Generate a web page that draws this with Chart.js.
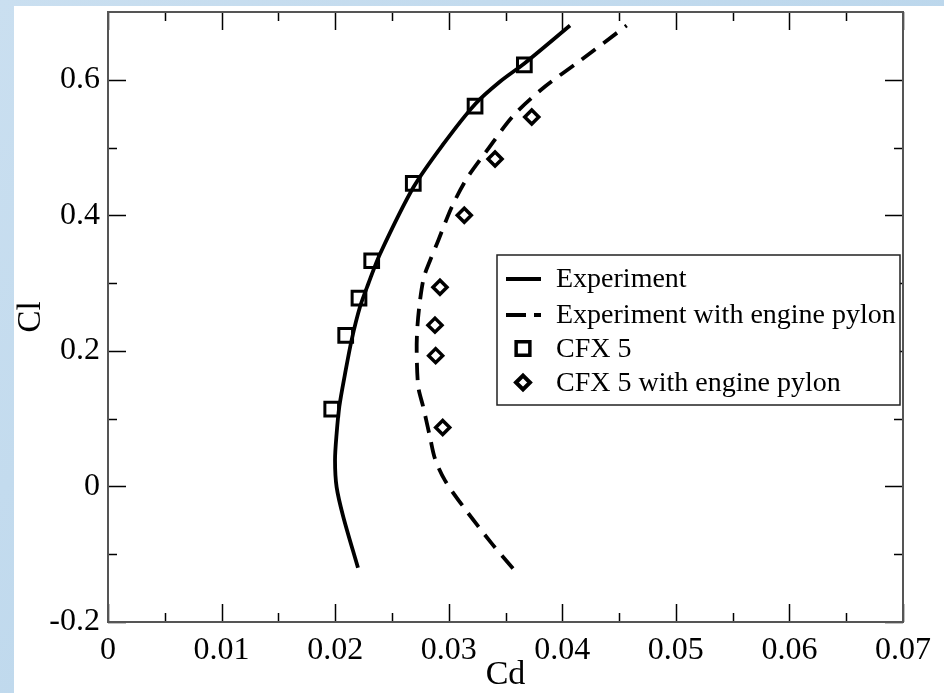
<!DOCTYPE html>
<html>
<head>
<meta charset="utf-8">
<script src="https://cdn.jsdelivr.net/npm/chart.js@4/dist/chart.umd.min.js"></script>
<style>
  html, body { margin:0; padding:0; }
  body { width:944px; height:693px; overflow:hidden; background:linear-gradient(135deg, #cadff0 0%, #bcd7ec 60%, #b4d1ea 100%); position:relative; }
  #panel { position:absolute; left:14px; top:6px; width:930px; height:687px; background:#fff; }
  #panel canvas { display:block; }
</style>
</head>
<body>
<div id="panel"><canvas id="polar" width="930" height="687"></canvas></div>
<script>
"use strict";
// Experiment (solid)
const expCd = [0.02201, 0.02072, 0.02013, 0.01999, 0.02013, 0.02037, 0.02087, 0.02145, 0.02219, 0.02292, 0.02395, 0.02688, 0.02952, 0.03232, 0.03450, 0.03666, 0.04068];
const expCl = [-0.120, -0.045, -0.001, 0.039, 0.078, 0.118, 0.166, 0.216, 0.265, 0.299, 0.343, 0.441, 0.505, 0.564, 0.597, 0.624, 0.680];
// Experiment with engine pylon (dashed)
const pylCd = [0.03566, 0.03378, 0.03129, 0.02967, 0.02879, 0.02835, 0.02776, 0.02732, 0.02718, 0.02724, 0.02747, 0.02782, 0.02835, 0.02908, 0.03026, 0.03158, 0.03334, 0.03569, 0.03848, 0.04156, 0.04567];
const pylCl = [-0.121, -0.084, -0.030, 0.009, 0.041, 0.073, 0.117, 0.147, 0.201, 0.235, 0.274, 0.309, 0.333, 0.363, 0.412, 0.454, 0.495, 0.547, 0.590, 0.628, 0.680];
// CFX 5 (squares)
const cfxCd = [0.01970, 0.02093, 0.02210, 0.02322, 0.02688, 0.03232, 0.03666];
const cfxCl = [0.114, 0.223, 0.278, 0.333, 0.447, 0.561, 0.622];
// CFX 5 with engine pylon (diamonds)
const cfxPylCd = [0.02947, 0.02885, 0.02879, 0.02923, 0.03137, 0.03408, 0.03731];
const cfxPylCl = [0.087, 0.193, 0.238, 0.294, 0.400, 0.483, 0.545];

const xMajor = [0, 0.01, 0.02, 0.03, 0.04, 0.05, 0.06, 0.07];
const xLabels = ["0", "0.01", "0.02", "0.03", "0.04", "0.05", "0.06", "0.07"];
const xMinor = [0.005, 0.015, 0.025, 0.035, 0.045, 0.055, 0.065];
const yMajor = [-0.2, 0, 0.2, 0.4, 0.6];
const yLabels = ["-0.2", "0", "0.2", "0.4", "0.6"];
const yMinor = [-0.1, 0.1, 0.3, 0.5];

const seriesNames = ["Experiment", "Experiment with engine pylon", "CFX 5", "CFX 5 with engine pylon"];

const SERIF = "'Liberation Serif', 'Times New Roman', serif";
Chart.defaults.font.family = SERIF;
Chart.defaults.color = "#000";

const pts = (xs, ys) => xs.map((v, i) => ({ x: v, y: ys[i] }));

const frameTicks = {
  id: "frameTicks",
  afterDraw(chart) {
    const { ctx, chartArea: a, scales: { x, y } } = chart;
    ctx.save();
    ctx.strokeStyle = "#000";
    ctx.lineWidth = 1.5;
    ctx.beginPath();
    const vt = (vals, len) => vals.forEach(v => {
      const px = Math.round(x.getPixelForValue(v)) + 0.5;
      ctx.moveTo(px, a.bottom); ctx.lineTo(px, a.bottom - len);
      ctx.moveTo(px, a.top);    ctx.lineTo(px, a.top + len);
    });
    const ht = (vals, len) => vals.forEach(v => {
      const py = Math.round(y.getPixelForValue(v)) + 0.5;
      ctx.moveTo(a.left, py);  ctx.lineTo(a.left + len, py);
      ctx.moveTo(a.right, py); ctx.lineTo(a.right - len, py);
    });
    vt(xMajor, 18); vt(xMinor, 9);
    ht(yMajor, 18); ht(yMinor, 9);
    ctx.stroke();
    ctx.strokeStyle = "#555";
    ctx.lineWidth = 2;
    ctx.strokeRect(a.left, a.top, a.right - a.left, a.bottom - a.top);

    // legend box
    const bx = 483, by = 249, bw = 403, bh = 150;
    ctx.fillStyle = "#fff";
    ctx.fillRect(bx, by, bw, bh);
    ctx.strokeStyle = "#222";
    ctx.lineWidth = 1.5;
    ctx.strokeRect(bx, by, bw, bh);
    const rows = [273, 309, 342.5, 376.5];
    const sx = 492, ex = 527, tx = 542;
    ctx.strokeStyle = "#000";
    ctx.lineWidth = 4;
    ctx.beginPath(); ctx.moveTo(sx, rows[0]); ctx.lineTo(ex, rows[0]); ctx.stroke();
    ctx.setLineDash([20, 8]);
    ctx.beginPath(); ctx.moveTo(sx, rows[1]); ctx.lineTo(ex, rows[1]); ctx.stroke();
    ctx.setLineDash([]);
    const ds = chart.data.datasets;
    [2, 3].forEach(i => {
      ctx.strokeStyle = "#000";
      ctx.fillStyle = "rgba(0,0,0,0)";
      ctx.lineWidth = ds[i].pointBorderWidth + 0.5;
      Chart.helpers.drawPoint(ctx, { pointStyle: ds[i].pointStyle, radius: ds[i].pointRadius, borderWidth: ds[i].pointBorderWidth + 0.5, rotation: 0 }, 509, rows[i]);
    });
    ctx.fillStyle = "#000";
    ctx.font = "28px " + SERIF;
    ctx.textAlign = "left";
    ctx.textBaseline = "middle";
    seriesNames.forEach((n, i) => ctx.fillText(n, tx, rows[i] + 1));
    ctx.restore();
  }
};

new Chart(document.getElementById("polar"), {
  type: "scatter",
  data: {
    datasets: [
      { label: seriesNames[0], data: pts(expCd, expCl), showLine: true, borderColor: "#000", borderWidth: 3.8, tension: 0.3, pointRadius: 0 },
      { label: seriesNames[1], data: pts(pylCd, pylCl), showLine: true, borderColor: "#000", borderWidth: 3.8, borderDash: [17, 10], tension: 0.3, pointRadius: 0 },
      { label: seriesNames[2], data: pts(cfxCd, cfxCl), showLine: false, pointStyle: "rect", pointRadius: 9.7, pointBorderWidth: 3, pointBorderColor: "#000", pointBackgroundColor: "rgba(0,0,0,0)" },
      { label: seriesNames[3], data: pts(cfxPylCd, cfxPylCl), showLine: false, pointStyle: "rectRot", pointRadius: 7, pointBorderWidth: 3.5, pointBorderColor: "#000", pointBackgroundColor: "rgba(0,0,0,0)" }
    ]
  },
  options: {
    responsive: false,
    animation: false,
    events: [],
    layout: { autoPadding: false, padding: { left: 0, top: 6, right: 41, bottom: 0 } },
    plugins: { legend: { display: false }, tooltip: { enabled: false } },
    scales: {
      x: {
        type: "linear", min: 0, max: 0.07,
        afterBuildTicks: s => { s.ticks = xMajor.map(v => ({ value: v })); },
        afterFit: s => { s.height = 71; s.paddingLeft = 0; s.paddingRight = 0; },
        grid: { display: false, drawTicks: false },
        border: { display: false },
        ticks: { autoSkip: false, maxRotation: 0, padding: 9, font: { size: 32 }, color: "#000", callback: (v, i) => xLabels[i] },
        title: { display: true, text: "Cd", font: { size: 34, lineHeight: 1 }, color: "#000", padding: { top: 0, bottom: 1 } }
      },
      y: {
        type: "linear", min: -0.2, max: 0.7,
        afterBuildTicks: s => { s.ticks = yMajor.map(v => ({ value: v })); },
        afterFit: s => { s.width = 94; s.paddingTop = 0; s.paddingBottom = 0; },
        grid: { display: false, drawTicks: false },
        border: { display: false },
        ticks: { autoSkip: false, padding: 8, font: { size: 32 }, color: "#000", callback: (v, i) => yLabels[i] },
        title: { display: true, text: "Cl", font: { size: 33, lineHeight: 1 }, color: "#000", padding: { top: 1, bottom: 0 } }
      }
    }
  },
  plugins: [frameTicks]
});
</script>
</body>
</html>
